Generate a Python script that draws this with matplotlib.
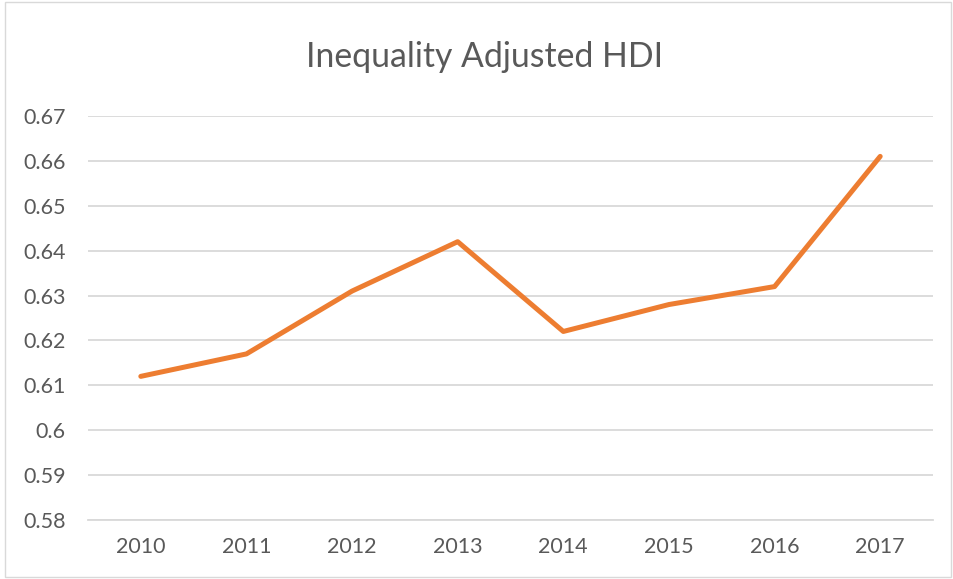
import matplotlib.pyplot as plt
from matplotlib.patches import Rectangle

years = ['2010', '2011', '2012', '2013', '2014', '2015', '2016', '2017']
ihdi = [0.612, 0.617, 0.631, 0.642, 0.622, 0.628, 0.632, 0.661]
yticks = [0.58, 0.59, 0.60, 0.61, 0.62, 0.63, 0.64, 0.65, 0.66, 0.67]
ytick_labels = ['0.58', '0.59', '0.6', '0.61', '0.62', '0.63', '0.64', '0.65', '0.66', '0.67']

plt.rcParams['font.family'] = ['Lato', 'DejaVu Sans']

fig = plt.figure(figsize=(9.54, 5.79), dpi=100)
ax = fig.add_axes([88/954, 59/579, 845/954, 404/579])

x = list(range(len(years)))
ax.plot(x, ihdi, color='#ED7D31', lw=3.6, solid_capstyle='round', solid_joinstyle='round', zorder=3)

ax.set_xlim(-0.5, len(years) - 0.5)
ax.set_ylim(0.58, 0.67)
ax.set_xticks(x)
ax.set_xticklabels(years)
ax.set_yticks(yticks)
ax.set_yticklabels(ytick_labels)
ax.grid(axis='y', color='#D9D9D9', lw=1.3)
ax.set_axisbelow(True)
for s in ['top', 'right', 'left']:
    ax.spines[s].set_visible(False)
ax.spines['bottom'].set_color('#D9D9D9')
ax.spines['bottom'].set_linewidth(1.3)
ax.tick_params(length=0, labelsize=15.5, colors='#595959', pad=12)
ax.tick_params(axis='y', pad=16)

fig.text(485/954, 1 - 57/579, 'Inequality Adjusted HDI', ha='center', va='center',
         fontsize=24.3, color='#595959')

fig.patches.append(Rectangle((5/954, 2/579), 946/954, 575/579, transform=fig.transFigure,
                             fill=False, edgecolor='#D9D9D9', lw=1))

plt.savefig('out.png', dpi=100)
